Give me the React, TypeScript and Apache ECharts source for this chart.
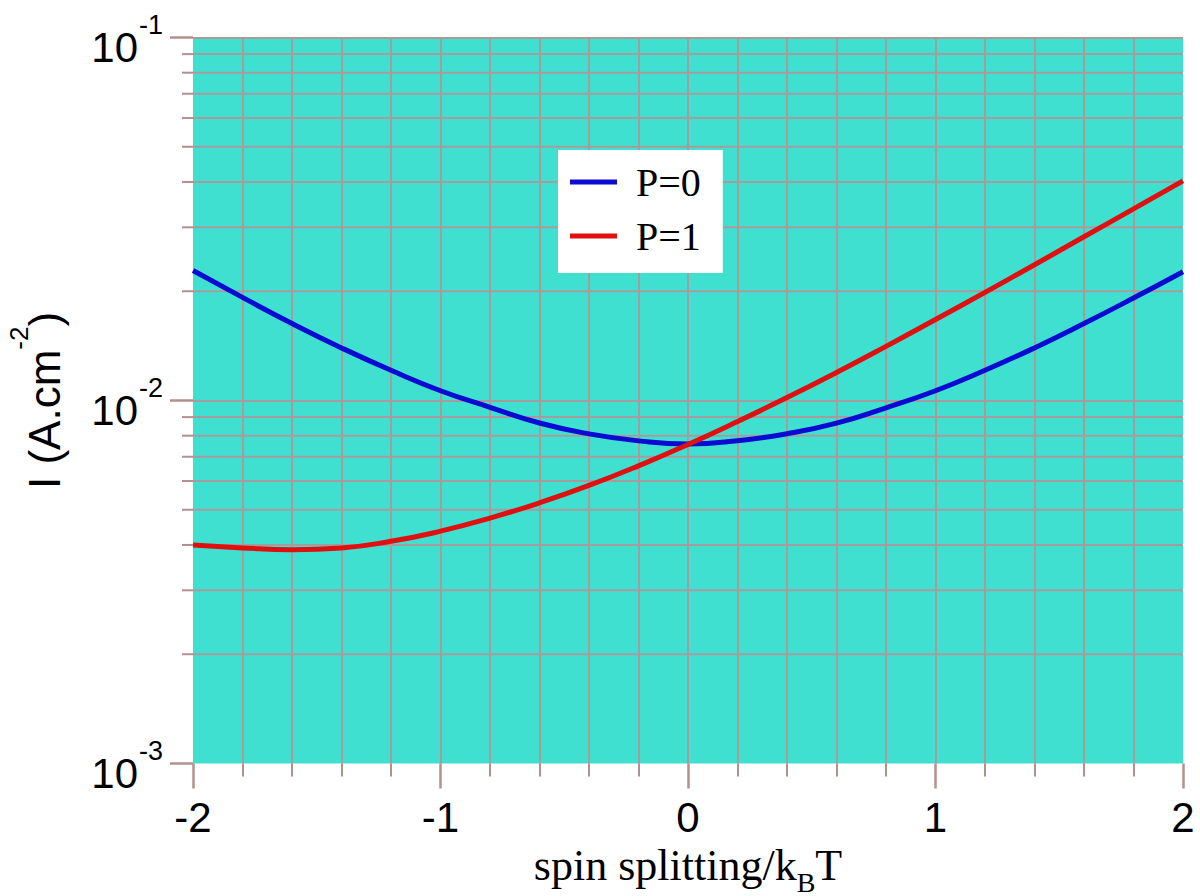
import React, { useEffect, useRef } from 'react';
import * as echarts from 'echarts';

const xValues = [-2, -1.8, -1.6, -1.4, -1.2, -1, -0.8, -0.6, -0.4, -0.2, 0, 0.2, 0.4, 0.6, 0.8, 1, 1.2, 1.4, 1.6, 1.8, 2];
const p0Values = [0.0228, 0.01923, 0.01629, 0.01396, 0.01211, 0.01064, 0.00958, 0.00867, 0.00809, 0.00774, 0.00759, 0.00775, 0.0081, 0.00866, 0.00955, 0.01064, 0.01211, 0.01396, 0.01629, 0.01915, 0.02264];
const p1Values = [0.004, 0.003926, 0.003882, 0.003926, 0.004093, 0.004365, 0.004742, 0.005224, 0.005834, 0.006607, 0.007568, 0.00875, 0.010186, 0.01194, 0.014093, 0.01671, 0.019861, 0.023659, 0.028249, 0.033729, 0.040272];
const seriesNames = ['P=0', 'P=1'];
const yMinorTicks = [0.002, 0.003, 0.004, 0.005, 0.006, 0.007, 0.008, 0.009, 0.02, 0.03, 0.04, 0.05, 0.06, 0.07, 0.08, 0.09];

const SANS = 'Liberation Sans, Arial, sans-serif';
const SERIF = 'Liberation Serif, Times New Roman, serif';
const gridColor = '#a69c9c';
const tickColor = '#b39090';

export default function App() {
  const ref = useRef<HTMLDivElement>(null);
  useEffect(() => {
    const chart = echarts.init(ref.current as HTMLDivElement, null, { renderer: 'svg' });
    chart.setOption({
      animation: false,
      grid: {
        left: 193, right: 17, top: 37.5, bottom: 132.5,
        show: true, backgroundColor: '#40E0D0', borderWidth: 0, containLabel: false,
        outerBoundsMode: 'none',
      },
      legend: {
        data: seriesNames,
        left: 558, top: 150,
        orient: 'vertical',
        backgroundColor: '#ffffff',
        padding: [12, 22, 17, 12],
        itemGap: 14,
        itemWidth: 47,
        itemHeight: 5,
        icon: 'rect',
        textStyle: { fontSize: 40, fontFamily: SERIF, color: '#000', lineHeight: 40, padding: [0, 0, 0, 14] },
      },
      xAxis: {
        type: 'value', min: -2, max: 2, interval: 1,
        name: 'spin splitting/k{sub|B}T',
        nameLocation: 'middle',
        nameGap: 70,
        nameTextStyle: {
          fontSize: 44, fontFamily: SERIF, color: '#000', lineHeight: 44, verticalAlign: 'top',
          rich: {
            sub: { fontSize: 28, fontFamily: SERIF, color: '#000', lineHeight: 24, padding: [25, 0, 0, 0], verticalAlign: 'top' },
          },
        },
        axisLine: { show: false, onZero: false },
        axisTick: { show: true, length: 25, lineStyle: { color: tickColor, width: 2.5 } },
        minorTick: { show: true, splitNumber: 5, length: 13, lineStyle: { color: tickColor, width: 2 } },
        splitLine: { show: true, showMinLine: false, showMaxLine: false, lineStyle: { color: gridColor, width: 2 } },
        minorSplitLine: { show: true, lineStyle: { color: gridColor, width: 2 } },
        axisLabel: { fontSize: 42, fontFamily: SANS, color: '#000', margin: 33, lineHeight: 42, formatter: (v: number) => String(v) },
      },
      yAxis: [
        {
          type: 'log', logBase: 10, min: 0.001, max: 0.1, position: 'left',
          name: '{b|I (A.cm}{s|-2}{b|)}',
          nameLocation: 'middle',
          nameRotate: 90,
          nameGap: 127,
          nameTextStyle: {
            rich: {
              b: { fontSize: 44, fontFamily: SANS, color: '#000', lineHeight: 60, verticalAlign: 'bottom' },
              s: { fontSize: 26, fontFamily: SANS, color: '#000', lineHeight: 26, verticalAlign: 'top' },
            },
          },
          axisLine: { show: false, onZero: false },
          axisTick: { show: true, length: 23, lineStyle: { color: tickColor, width: 2.5 } },
          minorTick: { show: false },
          splitLine: { show: true, showMinLine: false, showMaxLine: false, lineStyle: { color: gridColor, width: 2 } },
          axisLabel: {
            margin: 55,
            fontSize: 42, fontFamily: SANS, color: '#000',
            lineHeight: 20, verticalAlign: 'top',
            formatter: () => '10',
          },
        },
        {
          type: 'log', logBase: 10, min: 0.001, max: 0.1, position: 'left', offset: 0,
          axisLine: { show: false, onZero: false },
          axisTick: { show: false },
          splitLine: { show: false },
          axisLabel: {
            margin: 30,
            fontSize: 27, fontFamily: SANS, color: '#000',
            lineHeight: 26, verticalAlign: 'bottom',
            formatter: (v: number) => String(Math.round(Math.log10(v))),
          },
        },
      ],
      series: [
        {
          type: 'custom',
          name: 'minor',
          silent: true,
          clip: false,
          z: 1,
          yAxisIndex: 0,
          encode: { x: 0, y: 1 },
          data: yMinorTicks.map((v) => [-2, v]),
          renderItem: (params: any, api: any) => {
            const cs = params.coordSys;
            const p = api.coord([-2, api.value(1)]);
            return {
              type: 'group',
              children: [
                { type: 'line', shape: { x1: cs.x, y1: p[1], x2: cs.x + cs.width, y2: p[1] }, style: { stroke: gridColor, lineWidth: 2 } },
                { type: 'line', shape: { x1: cs.x - 11, y1: p[1], x2: cs.x, y2: p[1] }, style: { stroke: tickColor, lineWidth: 2 } },
              ],
            };
          },
        },
        {
          type: 'line', name: seriesNames[0], z: 3, smooth: true, symbol: 'none', yAxisIndex: 0,
          color: '#0a0ad2',
          lineStyle: { width: 5, color: '#0a0ad2' },
          data: xValues.map((x, i) => [x, p0Values[i]]),
        },
        {
          type: 'line', name: seriesNames[1], z: 3, smooth: true, symbol: 'none', yAxisIndex: 0,
          color: '#e01010',
          lineStyle: { width: 5, color: '#e01010' },
          data: xValues.map((x, i) => [x, p1Values[i]]),
        },
      ],
    });
    return () => chart.dispose();
  }, []);
  return <div ref={ref} style={{ position: 'absolute', left: 0, top: 0, width: 1200, height: 896 }} />;
}
